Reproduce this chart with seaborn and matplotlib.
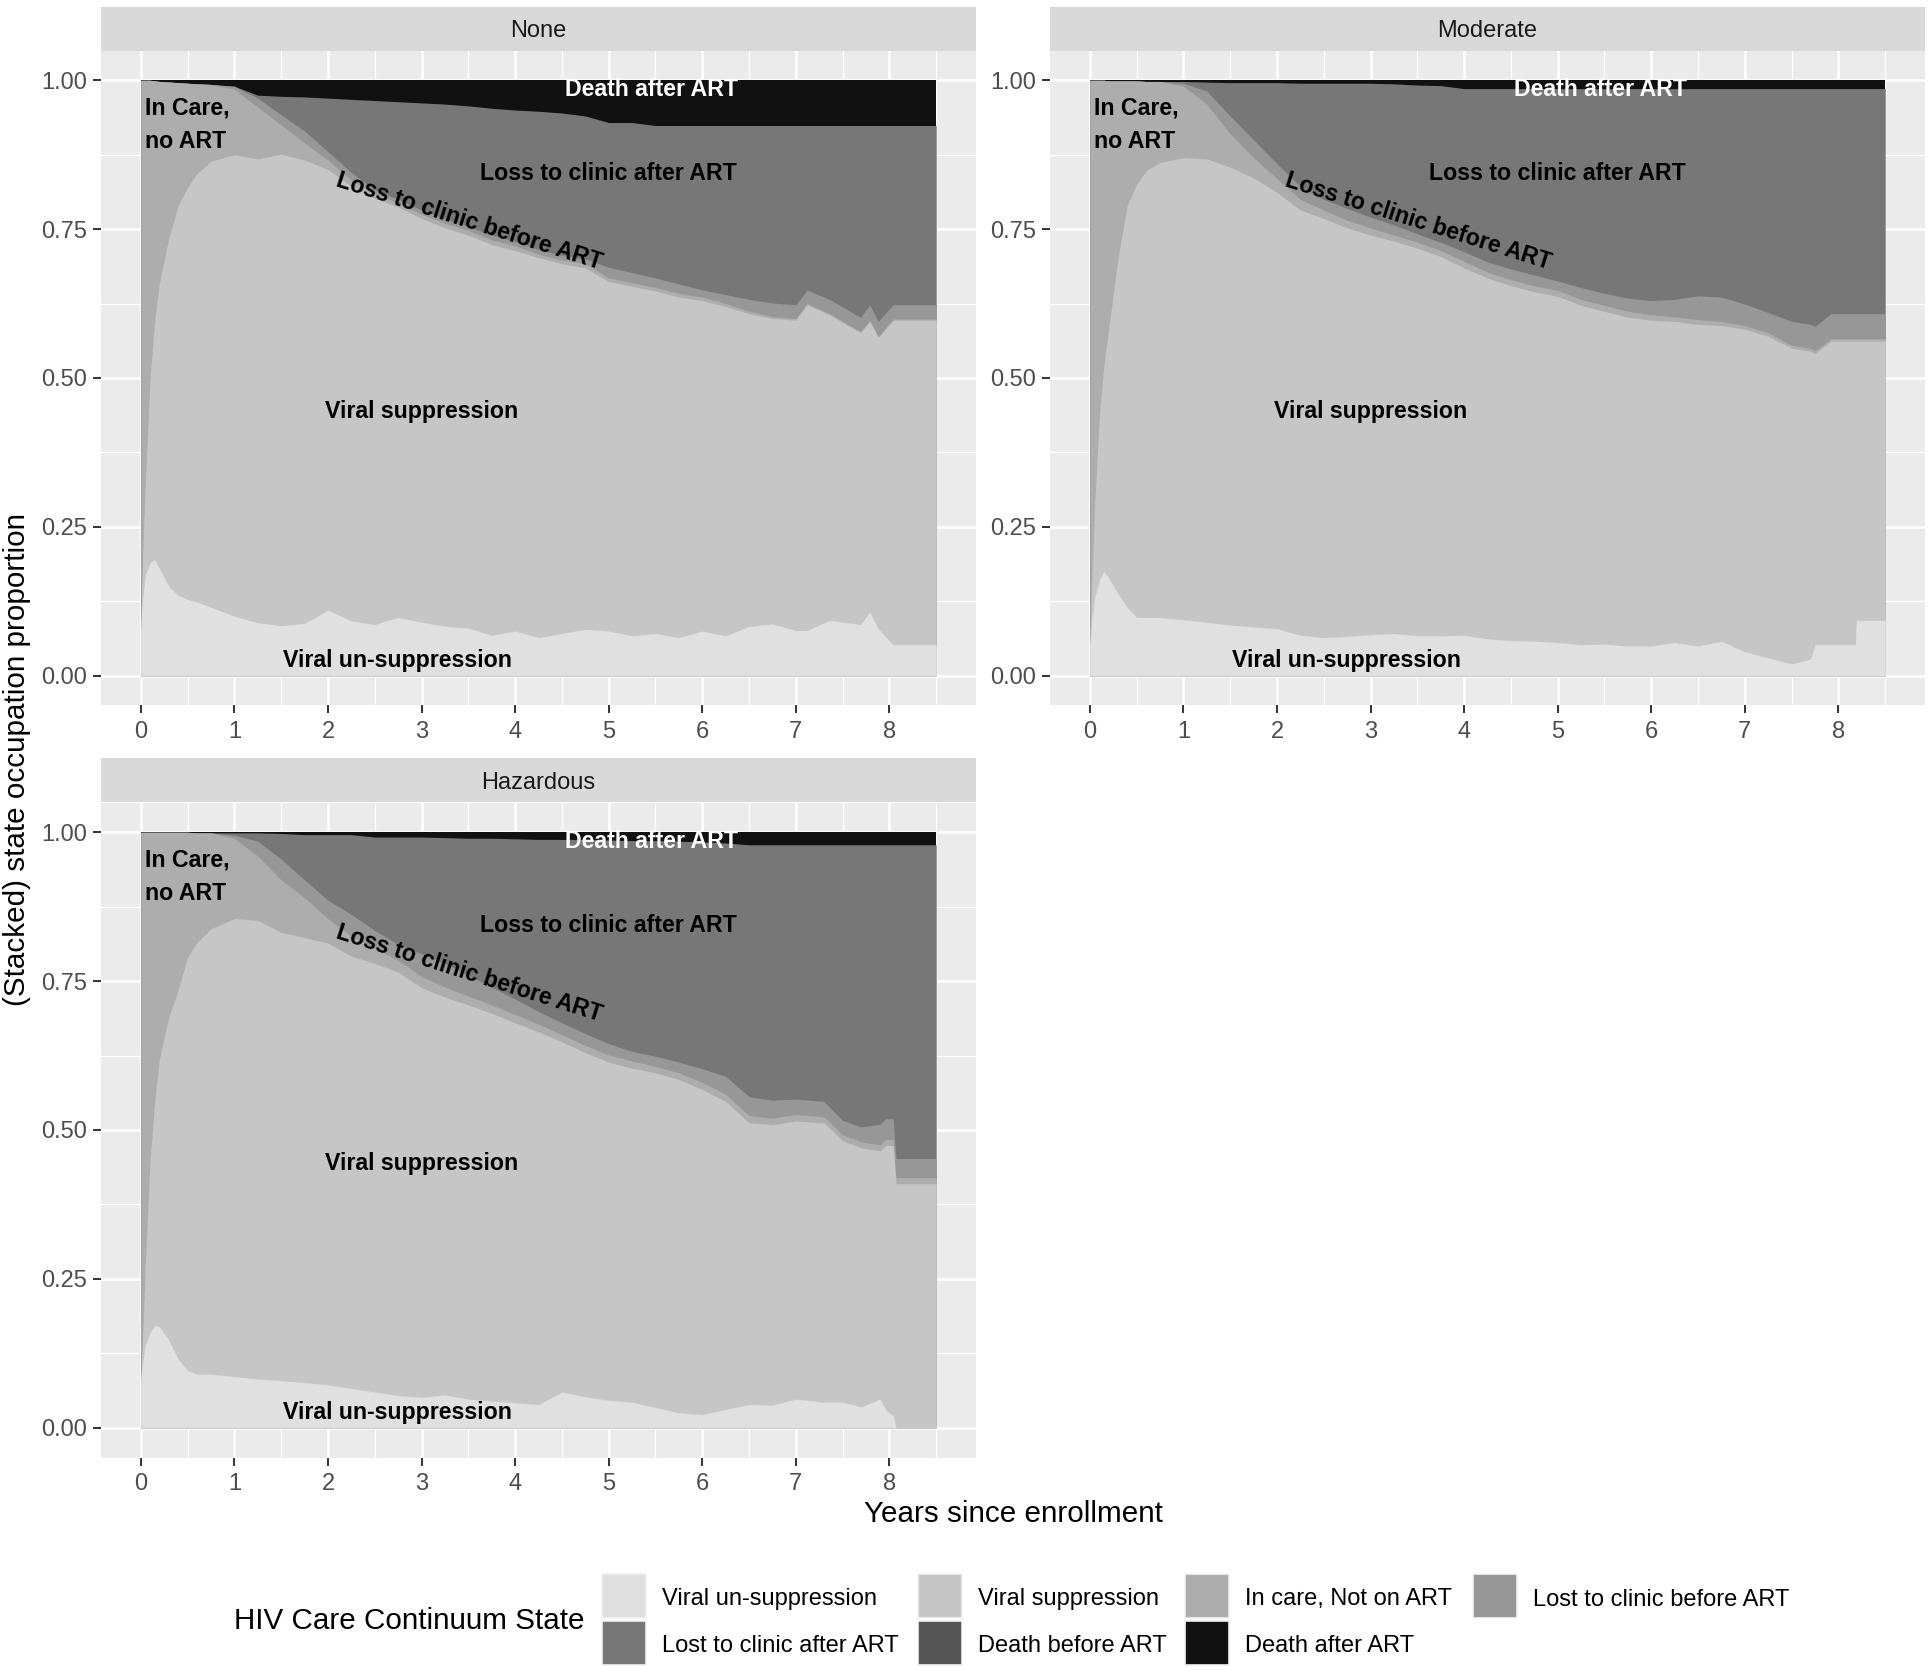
import numpy as np
import matplotlib
matplotlib.use("Agg")
import matplotlib.pyplot as plt
from matplotlib.patches import Rectangle
from matplotlib.ticker import MultipleLocator, FormatStrFormatter
import seaborn as sns

# states, bottom to top of the stack
states = ["Viral un-suppression", "Viral suppression", "In care, Not on ART",
          "Lost to clinic before ART", "Lost to clinic after ART",
          "Death before ART", "Death after ART"]
state_colors = ["#E0E0E0", "#C6C6C6", "#ADADAD", "#979797", "#777777", "#555555", "#111111"]

# ---- None ----  (upper edge of each stacked state)
none_t = [0, .02, .05, .1, .15, .2, .3, .4, .5, .6, .75, 1, 1.25, 1.5, 1.75, 2, 2.25, 2.5, 2.75, 3,
          3.25, 3.5, 3.75, 4, 4.25, 4.5, 4.75, 5, 5.25, 5.5, 5.75, 6, 6.25, 6.5, 6.75, 7,
          7.12, 7.36, 7.69, 7.79, 7.88, 8.04, 8.5]
none_unsup = [0.08, 0.13, 0.17, 0.19, 0.195, 0.18, 0.15, 0.135, 0.128, 0.124, 0.115, 0.10, 0.089, 0.084,
              0.088, 0.11, 0.092, 0.086, 0.098, 0.09, 0.083, 0.08, 0.068, 0.075, 0.064, 0.071, 0.078,
              0.075, 0.067, 0.071, 0.064, 0.075, 0.067, 0.083, 0.087, 0.076, 0.076, 0.093, 0.086,
              0.107, 0.079, 0.052, 0.052]
none_sup = [0.08, 0.2, 0.33, 0.5, 0.6, 0.66, 0.735, 0.79, 0.82, 0.843, 0.864, 0.875, 0.868, 0.876,
            0.866, 0.85, 0.822, 0.802, 0.787, 0.768, 0.752, 0.74, 0.724, 0.714, 0.702, 0.692, 0.685,
            0.662, 0.654, 0.646, 0.636, 0.63, 0.62, 0.608, 0.6, 0.597, 0.623, 0.606, 0.576, 0.595,
            0.568, 0.597, 0.597]
none_care = [1, 1, 1, 1, 0.999, 0.998, 0.997, 0.996, 0.995, 0.994, 0.993, 0.985, 0.955, 0.925, 0.895,
             0.866, 0.832, 0.81, 0.794, 0.775, 0.76, 0.748, 0.732, 0.722, 0.708, 0.698, 0.692, 0.668,
             0.66, 0.652, 0.642, 0.636, 0.625, 0.612, 0.603, 0.6, 0.625, 0.608, 0.578, 0.597, 0.57,
             0.599, 0.599]
none_lostb = [1, 1, 1, 1, 0.999, 0.998, 0.997, 0.996, 0.995, 0.994, 0.993, 0.99, 0.97, 0.942, 0.915,
              0.88, 0.845, 0.816, 0.8, 0.782, 0.767, 0.755, 0.74, 0.73, 0.716, 0.706, 0.7, 0.686,
              0.677, 0.668, 0.658, 0.648, 0.64, 0.632, 0.626, 0.623, 0.648, 0.632, 0.602, 0.623,
              0.595, 0.623, 0.623]
none_losta = [1, 1, 1, 1, 0.999, 0.998, 0.997, 0.996, 0.995, 0.994, 0.993, 0.99, 0.975, 0.973, 0.972,
              0.97, 0.968, 0.966, 0.964, 0.962, 0.96, 0.957, 0.953, 0.95, 0.948, 0.945, 0.94, 0.929,
              0.929, 0.924, 0.924, 0.924, 0.924, 0.924, 0.924, 0.924, 0.924, 0.924, 0.924, 0.924,
              0.924, 0.924, 0.924]

# ---- Moderate ----
mod_t = [0, .02, .05, .1, .15, .2, .3, .4, .5, .6, .75, 1, 1.25, 1.5, 1.75, 2, 2.25, 2.5, 2.75, 3,
         3.25, 3.5, 3.75, 4, 4.25, 4.5, 4.75, 5, 5.25, 5.5, 5.75, 6, 6.25, 6.5, 6.75, 7,
         7.25, 7.5, 7.7, 7.75, 7.92, 8.18, 8.19, 8.5]
mod_unsup = [0.052, 0.09, 0.13, 0.16, 0.175, 0.165, 0.138, 0.115, 0.098, 0.098, 0.098, 0.094, 0.09,
             0.085, 0.082, 0.079, 0.068, 0.064, 0.066, 0.069, 0.071, 0.067, 0.067, 0.068, 0.062,
             0.059, 0.058, 0.056, 0.052, 0.053, 0.05, 0.05, 0.056, 0.05, 0.058, 0.04,
             0.03, 0.02, 0.028, 0.052, 0.052, 0.052, 0.093, 0.093]
mod_sup = [0.052, 0.15, 0.28, 0.43, 0.52, 0.58, 0.7, 0.79, 0.825, 0.848, 0.862, 0.87, 0.868, 0.854,
           0.836, 0.812, 0.782, 0.768, 0.752, 0.74, 0.73, 0.718, 0.704, 0.685, 0.668, 0.655, 0.645,
           0.637, 0.622, 0.612, 0.602, 0.597, 0.595, 0.59, 0.588, 0.582,
           0.57, 0.55, 0.545, 0.541, 0.562, 0.562, 0.562, 0.562]
mod_care = [1, 1, 1, 1, 1, 0.999, 0.999, 0.999, 0.999, 0.998, 0.998, 0.99, 0.96, 0.91, 0.87, 0.835,
            0.8, 0.782, 0.765, 0.752, 0.74, 0.728, 0.714, 0.696, 0.678, 0.665, 0.655, 0.647, 0.632,
            0.622, 0.612, 0.606, 0.603, 0.598, 0.595, 0.588,
            0.576, 0.555, 0.55, 0.546, 0.566, 0.566, 0.566, 0.566]
mod_lostb = [1, 1, 1, 1, 1, 0.999, 0.999, 0.999, 0.999, 0.998, 0.998, 0.995, 0.982, 0.94, 0.9, 0.86,
             0.822, 0.8, 0.785, 0.77, 0.757, 0.742, 0.728, 0.712, 0.695, 0.683, 0.673, 0.663, 0.652,
             0.642, 0.634, 0.63, 0.632, 0.638, 0.636, 0.624,
             0.61, 0.595, 0.59, 0.587, 0.608, 0.608, 0.608, 0.608]
mod_losta = [1, 1, 1, 1, 1, 0.999, 0.999, 0.999, 0.999, 0.998, 0.998, 0.998, 0.997, 0.996, 0.996,
             0.996, 0.995, 0.995, 0.995, 0.995, 0.994, 0.992, 0.991, 0.986, 0.986, 0.986, 0.986,
             0.986, 0.986, 0.986, 0.986, 0.986, 0.986, 0.986, 0.986, 0.986,
             0.986, 0.986, 0.986, 0.986, 0.986, 0.986, 0.986, 0.986]

# ---- Hazardous ----
haz_t = [0, .02, .05, .1, .15, .2, .3, .4, .5, .6, .75, 1, 1.25, 1.5, 1.75, 2, 2.25, 2.5, 2.75, 3,
         3.25, 3.5, 3.75, 4, 4.25, 4.5, 4.75, 5, 5.25, 5.5, 5.75, 6, 6.25, 6.5, 6.75, 7,
         7.3, 7.5, 7.7, 7.9, 7.96, 8.04, 8.07, 8.5]
haz_unsup = [0.081, 0.11, 0.14, 0.16, 0.172, 0.17, 0.147, 0.115, 0.096, 0.09, 0.09, 0.086, 0.082,
             0.079, 0.076, 0.072, 0.066, 0.06, 0.054, 0.051, 0.055, 0.048, 0.045, 0.042, 0.039,
             0.06, 0.052, 0.046, 0.043, 0.034, 0.025, 0.022, 0.031, 0.039, 0.038, 0.048,
             0.043, 0.043, 0.035, 0.048, 0.03, 0.02, 0, 0]
haz_sup = [0.081, 0.15, 0.28, 0.45, 0.55, 0.62, 0.69, 0.735, 0.79, 0.815, 0.838, 0.855, 0.852, 0.832,
           0.823, 0.814, 0.792, 0.78, 0.765, 0.739, 0.723, 0.71, 0.696, 0.68, 0.665, 0.648, 0.63,
           0.614, 0.604, 0.596, 0.585, 0.568, 0.548, 0.512, 0.509, 0.515,
           0.512, 0.482, 0.47, 0.465, 0.474, 0.474, 0.41, 0.41]
haz_care = [1, 1, 1, 1, 1, 1, 1, 1, 1, 0.999, 0.999, 0.99, 0.96, 0.92, 0.89, 0.855, 0.825, 0.805,
            0.785, 0.758, 0.74, 0.725, 0.71, 0.694, 0.678, 0.66, 0.642, 0.626, 0.616, 0.607, 0.596,
            0.58, 0.56, 0.524, 0.52, 0.526,
            0.522, 0.492, 0.48, 0.475, 0.484, 0.484, 0.42, 0.42]
haz_lostb = [1, 1, 1, 1, 1, 1, 1, 1, 1, 0.999, 0.999, 0.995, 0.985, 0.955, 0.92, 0.886, 0.862, 0.835,
             0.812, 0.796, 0.78, 0.76, 0.74, 0.72, 0.699, 0.68, 0.662, 0.645, 0.632, 0.624, 0.614,
             0.603, 0.59, 0.556, 0.55, 0.552,
             0.548, 0.516, 0.505, 0.51, 0.519, 0.519, 0.452, 0.452]
haz_losta = [1, 1, 1, 1, 1, 1, 1, 1, 1, 0.999, 0.999, 0.999, 0.999, 0.998, 0.996, 0.996, 0.996,
             0.992, 0.992, 0.992, 0.991, 0.99, 0.99, 0.989, 0.988, 0.988, 0.988, 0.987, 0.986,
             0.986, 0.985, 0.984, 0.982, 0.979, 0.979, 0.979,
             0.979, 0.979, 0.979, 0.979, 0.979, 0.979, 0.979, 0.979]

facet_names = ["None", "Moderate", "Hazardous"]

sns.set_theme(style="darkgrid", rc={"axes.facecolor": "#EBEBEB", "grid.color": "white"})
plt.rcParams["font.family"] = ["Liberation Sans", "DejaVu Sans"]

W, H = 1930, 1671
fig = plt.figure(figsize=(W / 100, H / 100), dpi=100)

# panel boxes in pixels: (left, top) of data panel
panel_px = [(101, 50.5), (1050, 50.5), (101, 802.5)]
pw, ph, sh = 875, 655, 44

panels = [
    (none_t, [none_unsup, none_sup, none_care, none_lostb, none_losta]),
    (mod_t, [mod_unsup, mod_sup, mod_care, mod_lostb, mod_losta]),
    (haz_t, [haz_unsup, haz_sup, haz_care, haz_lostb, haz_losta]),
]
layer_idx = [0, 1, 2, 3, 4]  # drawn layers; "Death before ART" is too thin to show

for name, (px, py), (t, edges) in zip(facet_names, panel_px, panels):
    ax = fig.add_axes([px / W, 1 - (py + ph) / H, pw / W, ph / H])
    t = np.array(t)
    # draw from the top down so neighbouring layers leave no seams
    ax.fill_between(t, 0, np.ones_like(t), color=state_colors[6], linewidth=0, zorder=2)
    for k in reversed(layer_idx):
        ax.fill_between(t, 0, np.array(edges[k]), color=state_colors[k], linewidth=0, zorder=2)

    ax.set_xlim(-0.425, 8.925)
    ax.set_ylim(-0.05, 1.05)
    ax.xaxis.set_major_locator(MultipleLocator(1))
    ax.xaxis.set_minor_locator(MultipleLocator(0.5))
    ax.yaxis.set_major_locator(MultipleLocator(0.25))
    ax.yaxis.set_minor_locator(MultipleLocator(0.125))
    ax.yaxis.set_major_formatter(FormatStrFormatter("%.2f"))
    ax.grid(which="major", color="white", linewidth=1.8)
    ax.grid(which="minor", color="white", linewidth=0.9)
    ax.set_axisbelow(True)
    ax.tick_params(which="major", length=6, width=1.4, color="#333333",
                   labelcolor="#4D4D4D", labelsize=17, pad=4, bottom=True, left=True)
    ax.tick_params(axis="x", which="major", pad=5.5)
    ax.tick_params(which="minor", length=0)
    for s in ax.spines.values():
        s.set_visible(False)

    txt = dict(fontsize=16.7, fontweight="bold", zorder=5, color="black")
    ax.text(0.04, 0.925, "In Care,\nno ART", ha="left", va="center", linespacing=1.6, **txt)
    ax.text(5.0, 0.843, "Loss to clinic after ART", ha="center", va="center", **txt)
    ax.text(3.51, 0.763, "Loss to clinic before ART", ha="center", va="center",
            rotation=-17.5, rotation_mode="anchor", **txt)
    ax.text(3.0, 0.444, "Viral suppression", ha="center", va="center", **txt)
    ax.text(2.74, 0.025, "Viral un-suppression", ha="center", va="center", **txt)
    txt["color"] = "white"
    ax.text(5.46, 0.984, "Death after ART", ha="center", va="center", **txt)

    # facet strip
    sax = fig.add_axes([px / W, 1 - py / H, pw / W, sh / H])
    sax.set_facecolor("#D9D9D9")
    sax.set_xticks([])
    sax.set_yticks([])
    sax.grid(False)
    for s in sax.spines.values():
        s.set_visible(False)
    sax.text(0.5, 0.44, name, ha="center", va="center", fontsize=17, color="#1A1A1A",
             transform=sax.transAxes)

fig.text(17 / W, 1 - 759 / H, "(Stacked) state occupation proportion", rotation=90,
         ha="center", va="center", fontsize=21.3, color="black")
fig.text(1013 / W, 1 - 1514.5 / H, "Years since enrollment", ha="center", va="center",
         fontsize=21.3, color="black")
fig.text(234 / W, 1 - 1621 / H, "HIV Care Continuum State", ha="left", va="center",
         fontsize=21.3, color="black")

# legend, laid out row-wise in four columns like ggplot's bottom legend
key_x = [602, 918, 1185, 1473]
row_top = [1573.5, 1620.5]
key = 44
for i, (lab, col) in enumerate(zip(states, state_colors)):
    r, c = divmod(i, 4)
    x, y = key_x[c], row_top[r]
    fig.patches.append(Rectangle((x / W, 1 - (y + key) / H), key / W, key / H,
                                 transform=fig.transFigure, facecolor=col,
                                 edgecolor="#F2F2F2", linewidth=1.2))
    fig.text((x + 60) / W, 1 - (y + key / 2 + 4) / H, lab, ha="left", va="center",
             fontsize=17, color="black")

fig.savefig("out.png", dpi=100)
